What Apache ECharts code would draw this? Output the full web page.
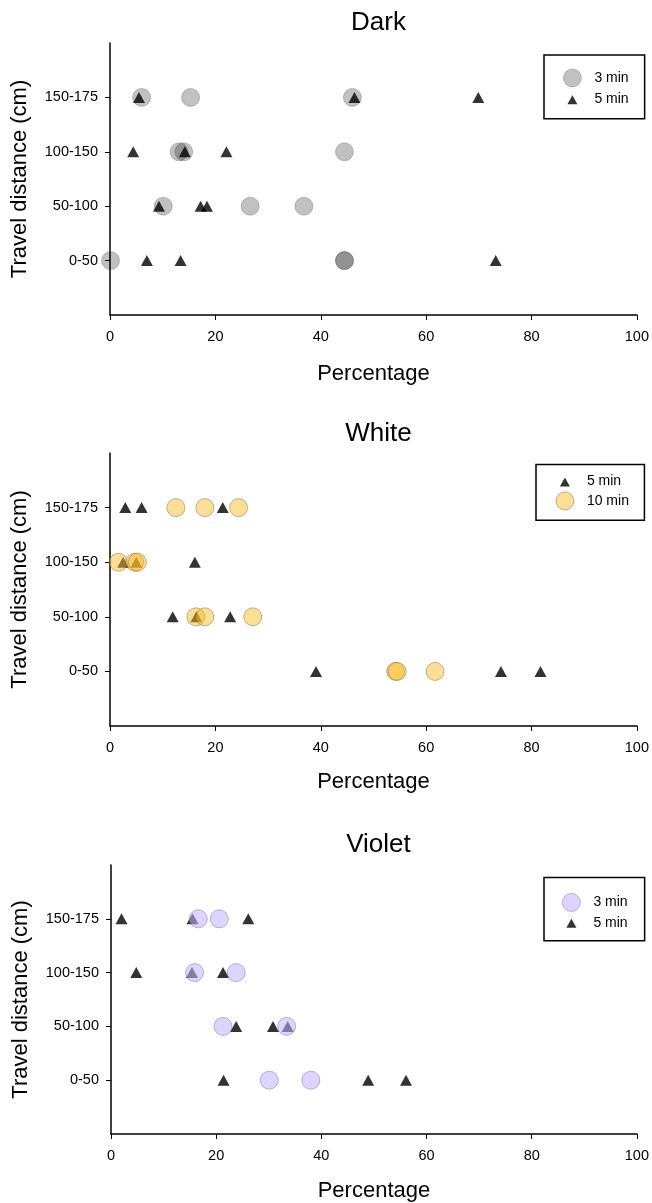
<!DOCTYPE html>
<html><head><meta charset="utf-8">
<script src="https://cdn.jsdelivr.net/npm/echarts@6/dist/echarts.min.js"></script>
<style>html,body{margin:0;padding:0;background:#fff}#c{width:652px;height:1203px}</style>
</head><body><div id="c"></div>
<script>
// ---- data ----
const yLabels = ['0-50', '50-100', '100-150', '150-175'];
const xTickStep = 20;
const panelTitles = ['Dark', 'White', 'Violet'];
// each row follows yLabels order; values = percentage per replicate
const dark3min   = [[0.1, 44.5, 44.5], [10.1, 26.6, 36.8], [13.1, 14.0, 44.5], [6.0, 15.3, 46.0]];
const dark5min   = [[7.0, 13.4, 73.2], [9.3, 17.2, 18.4], [4.4, 14.2, 22.1], [5.5, 46.4, 69.9]];
const white5min  = [[39.1, 74.2, 81.7], [11.9, 16.4, 22.8], [2.5, 5.0, 16.1], [2.9, 6.0, 21.4]];
const white10min = [[54.2, 54.5, 61.7], [16.3, 18.0, 27.1], [1.6, 4.7, 5.2], [12.5, 18.0, 24.4]];
const violet3min = [[30.1, 38.0], [21.3, 33.4], [15.9, 23.8], [16.6, 20.6]];
const violet5min = [[21.4, 48.9, 56.1], [23.8, 30.8, 33.6], [4.8, 15.4, 21.3], [2.0, 15.5, 26.1]];

// ---- helpers ----
const FONT = 'Liberation Sans, Arial, sans-serif';
const toPoints = rows => rows.flatMap((r, i) => r.map(x => [x, i + 1]));
const rowVals = yLabels.map((_, i) => i + 1);

const grids = [
  { left: 110, width: 527, top: 43, height: 272 },
  { left: 110, width: 527, top: 453, height: 273 },
  { left: 111, width: 527, top: 865, height: 271 }
];
const titleTops = [5, 416, 827];
const xNameGaps = [48, 45, 46];

const circlePath = 'path://M0,0M34,18M8,9A9,9,0,1,1,26,9A9,9,0,1,1,8,9Z';
const triPath = 'path://M0,0M34,18M12,14L17,5L22,14Z';

const styles = {
  gray:   { color: 'rgba(0,0,0,0.3)', borderColor: 'rgba(70,70,70,0.45)', borderWidth: 0.8 },
  yellow: { color: 'rgba(249,188,38,0.62)', borderColor: 'rgba(110,95,60,0.7)', borderWidth: 0.8 },
  violet: { color: 'rgba(195,180,255,0.7)', borderColor: 'rgba(110,100,150,0.7)', borderWidth: 0.8 },
  black:  { color: '#000', borderWidth: 0 }
};

function circleSeries(name, g, rows, st) {
  return { type: 'scatter', name, xAxisIndex: g, yAxisIndex: g, symbol: 'circle', symbolSize: 18,
           itemStyle: st, data: toPoints(rows), silent: true };
}
function triSeries(name, g, rows) {
  return { type: 'scatter', name, xAxisIndex: g, yAxisIndex: g, symbol: 'triangle', symbolSize: [12, 11],
           itemStyle: styles.black, data: toPoints(rows), silent: true };
}

const xAxis = grids.map((_, g) => ({
  type: 'value', gridIndex: g, min: 0, max: 100, interval: xTickStep,
  name: 'Percentage', nameLocation: 'middle', nameGap: xNameGaps[g],
  nameTextStyle: { fontSize: 22, color: '#000', fontFamily: FONT },
  axisLine: { show: true, lineStyle: { color: '#000', width: 1.5 } },
  axisTick: { show: true, length: 5, lineStyle: { color: '#000', width: 1 } },
  axisLabel: { fontSize: 14.5, color: '#000', margin: 14, fontFamily: FONT },
  splitLine: { show: false }
}));
const yAxis = grids.map((_, g) => ({
  type: 'value', gridIndex: g, min: 0, max: 5,
  name: 'Travel distance (cm)', nameLocation: 'middle', nameGap: 79,
  nameTextStyle: { fontSize: 22, color: '#000', fontFamily: FONT },
  axisLine: { show: true, lineStyle: { color: '#000', width: 1.5 } },
  axisTick: { show: true, length: 5, customValues: rowVals, lineStyle: { color: '#000', width: 1 } },
  axisLabel: { fontSize: 14.5, color: '#000', margin: 12, fontFamily: FONT, customValues: rowVals,
               formatter: v => yLabels[Math.round(v) - 1] || '' },
  splitLine: { show: false }
}));

function legend(left, top, padding, gap, items) {
  return {
    orient: 'vertical', left, top, padding, itemGap: gap, itemWidth: 34, itemHeight: 18,
    borderColor: '#000', borderWidth: 1.5, backgroundColor: '#fff', selectedMode: false,
    textStyle: { fontSize: 14, color: '#000', fontFamily: FONT },
    formatter: n => n.split('|')[1],
    data: items
  };
}

const option = {
  animation: false,
  backgroundColor: '#fff',
  title: panelTitles.map((t, i) => ({
    text: t, left: 373.5, textAlign: 'center', top: titleTops[i],
    textStyle: { fontSize: 26, fontWeight: 'normal', color: '#000', fontFamily: FONT }
  })),
  grid: grids,
  xAxis, yAxis,
  legend: [
    legend(544, 55, [13.5, 16, 10.5, 11], 3, [
      { name: 'Dark|3 min', icon: circlePath, itemStyle: styles.gray },
      { name: 'Dark|5 min', icon: triPath, itemStyle: styles.black }
    ]),
    legend(536, 464.5, [8, 15.5, 10, 11.5], 1, [
      { name: 'White|5 min', icon: triPath, itemStyle: styles.black },
      { name: 'White|10 min', icon: circlePath, itemStyle: styles.yellow }
    ]),
    legend(544, 877.5, [15.5, 17, 9, 10], 2, [
      { name: 'Violet|3 min', icon: circlePath, itemStyle: styles.violet },
      { name: 'Violet|5 min', icon: triPath, itemStyle: styles.black }
    ])
  ],
  series: [
    circleSeries('Dark|3 min', 0, dark3min, styles.gray),
    triSeries('Dark|5 min', 0, dark5min),
    triSeries('White|5 min', 1, white5min),
    circleSeries('White|10 min', 1, white10min, styles.yellow),
    triSeries('Violet|5 min', 2, violet5min),
    circleSeries('Violet|3 min', 2, violet3min, styles.violet)
  ]
};
const chart = echarts.init(document.getElementById('c'), null, { renderer: 'canvas' });
chart.setOption(option);
</script>
</body></html>
